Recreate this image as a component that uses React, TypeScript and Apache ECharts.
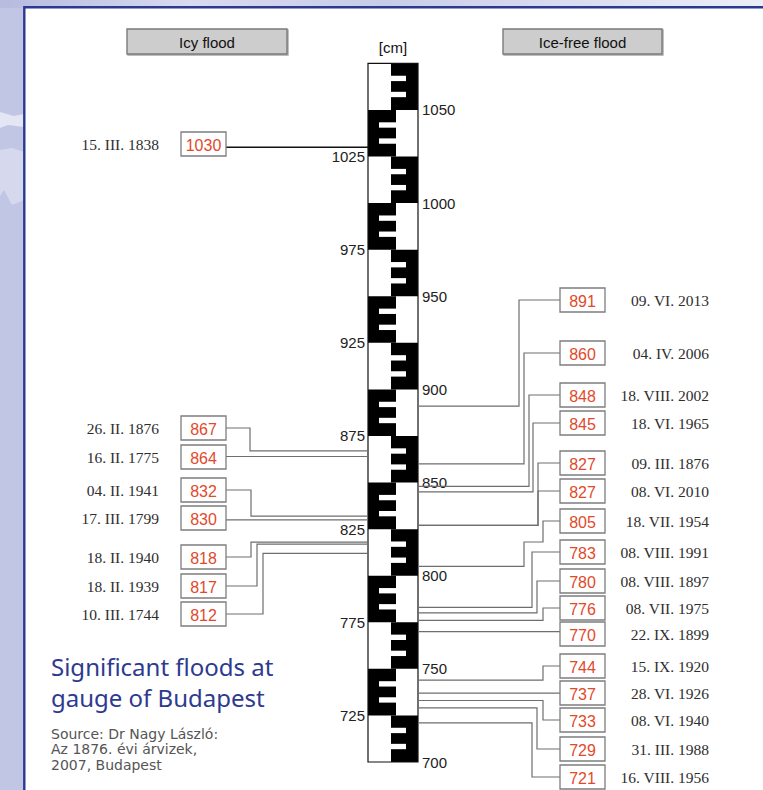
import React, { useEffect, useRef } from "react";
import * as echarts from "echarts";

// ---------- data ----------
const gaugeBlocks = [700, 725, 750, 775, 800, 825, 850, 875, 900, 925, 950, 975, 1000, 1025, 1050];
const gaugeMin = 700;
const gaugeMax = 1075;
const gaugeStep = 25;

const icyDates = ["15. III. 1838", "26. II. 1876", "16. II. 1775", "04. II. 1941", "17. III. 1799", "18. II. 1940", "18. II. 1939", "10. III. 1744"];
const icyValues = [1030, 867, 864, 832, 830, 818, 817, 812];

const iceFreeDates = ["09. VI. 2013", "04. IV. 2006", "18. VIII. 2002", "18. VI. 1965", "09. III. 1876", "08. VI. 2010", "18. VII. 1954", "08. VIII. 1991", "08. VIII. 1897", "08. VII. 1975", "22. IX. 1899", "15. IX. 1920", "28. VI. 1926", "08. VI. 1940", "31. III. 1988", "16. VIII. 1956"];
const iceFreeValues = [891, 860, 848, 845, 827, 827, 805, 783, 780, 776, 770, 744, 737, 733, 729, 721];

const headers = ["Icy flood", "Ice-free flood"];
const unitLabel = "[cm]";
const titleLines = ["Significant floods at", "gauge of Budapest"];
const sourceLines = ["Source: Dr Nagy László:", "Az 1876. évi árvizek,", "2007, Budapest"];

// ---------- layout ----------
const W = 763, H = 790;
const gridTop = 63.4, gridBottom = 28;
const staffLeft = 368, staffWidth = 50;
const icyBoxY = [144, 428, 457, 490, 518, 557, 586, 614];
const icyElbowX: (number | null)[] = [null, 250, null, 251, null, 251, 257, 263];
const iceFreeBoxY = [300, 353, 395, 423, 463, 491, 521, 552, 581, 608, 634, 666, 693, 720, 749, 777];
const iceFreeElbowX: (number | null)[] = [519, 524, 529, 533, 538, 538, 543, 532, 537, 543, null, 543, null, 543, 537, 532];
const detourIndex = 6, detourY = 542, detourX = 524;
const icyBoxX = 181, iceFreeBoxX = 560, boxW = 45, boxH = 24;
const icyDateRight = 159, iceFreeDateRight = 709;

const SANS = "Liberation Sans";
const SERIF = "Liberation Serif";
const RED = "#e2492a";
const LINE = "#6e6e6e";

function txt(text: string, x: number, y: number, size: number, family: string, fill: string, align: string, extra: any = {}) {
  return {
    type: "text",
    style: {
      text, x, y, fill, fontSize: size, fontFamily: family,
      align, verticalAlign: "middle", textAlign: align, textVerticalAlign: "middle", ...extra,
    },
  };
}

export default function App() {
  const ref = useRef<HTMLDivElement>(null);
  useEffect(() => {
    if (!ref.current) return;
    const chart = echarts.init(ref.current, null, { renderer: "svg" });

    const staffItem = (params: any, api: any) => {
      const lo = api.value(1);
      const side = api.value(2);
      const p0 = api.coord([0, lo + gaugeStep]);
      const p1 = api.coord([staffWidth, lo]);
      const top = p0[1], bot = p1[1], left = p0[0], right = p1[0];
      const h = bot - top;
      const n1 = [top + 0.265 * h, top + 0.38 * h];
      const n2 = [top + 0.61 * h, top + 0.725 * h];
      let black, nx0, nx1;
      if (side === 0) {
        black = { x: left + 23, y: top, width: right - left - 23, height: h };
        nx0 = left + 23; nx1 = left + 38;
      } else {
        black = { x: left, y: top, width: 28, height: h };
        nx0 = left + 11; nx1 = left + 28;
      }
      return {
        type: "group",
        children: [
          { type: "rect", shape: black, style: { fill: "#000" } },
          { type: "rect", shape: { x: nx0, y: n1[0], width: nx1 - nx0, height: n1[1] - n1[0] }, style: { fill: "#fff" } },
          { type: "rect", shape: { x: nx0, y: n2[0], width: nx1 - nx0, height: n2[1] - n2[0] }, style: { fill: "#fff" } },
        ],
      };
    };

    const outlineItem = (params: any, api: any) => {
      const p0 = api.coord([0, api.value(2)]);
      const p1 = api.coord([staffWidth, api.value(1)]);
      return {
        type: "rect",
        shape: { x: p0[0], y: p0[1], width: p1[0] - p0[0], height: p1[1] - p0[1] },
        style: { fill: "none", stroke: "#111", lineWidth: 1.2 },
      };
    };

    const icyItem = (params: any, api: any) => {
      const v = api.value(1);
      const i = api.value(2);
      const yv = api.coord([0, v])[1];
      const sx = api.coord([staffLeft, v])[0];
      const bx = api.coord([icyBoxX + boxW, v])[0];
      const by = icyBoxY[i];
      const ex = icyElbowX[i];
      const pts = ex == null ? [[bx, yv], [sx, yv]] : [[bx, by], [ex, by], [ex, yv], [sx, yv]];
      const isTop = v > 1000;
      return {
        type: "group",
        children: [
          { type: "polyline", shape: { points: pts }, style: { fill: "none", stroke: isTop ? "#111" : LINE, lineWidth: isTop ? 1.5 : 1.2 } },
          { type: "rect", shape: { x: icyBoxX, y: by - boxH / 2, width: boxW, height: boxH }, style: { fill: "#fff", stroke: "#7d7d7d", lineWidth: 1.3 } },
          txt(String(v), icyBoxX + boxW / 2, by + 1, 16, SANS, RED, "center"),
          txt(icyDates[i], icyDateRight, by, 15.5, SERIF, "#2e2e2e", "right"),
        ],
      };
    };

    const iceFreeItem = (params: any, api: any) => {
      const v = api.value(1);
      const i = api.value(2);
      const yv = api.coord([0, v])[1];
      const sx = api.coord([staffLeft + staffWidth, v])[0];
      const bx = api.coord([iceFreeBoxX, v])[0];
      const by = iceFreeBoxY[i];
      const ex = iceFreeElbowX[i];
      let pts: number[][];
      if (ex == null) pts = [[bx, yv], [sx, yv]];
      else if (i === detourIndex) pts = [[bx, by], [ex, by], [ex, detourY], [detourX, detourY], [detourX, yv], [sx, yv]];
      else pts = [[bx, by], [ex, by], [ex, yv], [sx, yv]];
      return {
        type: "group",
        children: [
          { type: "polyline", shape: { points: pts }, style: { fill: "none", stroke: LINE, lineWidth: 1.2 } },
          { type: "rect", shape: { x: iceFreeBoxX, y: by - boxH / 2, width: boxW, height: boxH }, style: { fill: "#fff", stroke: "#7d7d7d", lineWidth: 1.3 } },
          txt(String(v), iceFreeBoxX + boxW / 2, by + 1, 16, SANS, RED, "center"),
          txt(iceFreeDates[i], iceFreeDateRight, by, 15.5, SERIF, "#2e2e2e", "right"),
        ],
      };
    };

    const headerBox = (label: string, x: number, w: number) => ({
      type: "group",
      children: [
        { type: "rect", shape: { x, y: 29, width: w, height: 25 }, style: { fill: "#cdcdcd", stroke: "#7a7a7a", lineWidth: 1.4, shadowColor: "rgba(0,0,0,0.35)", shadowOffsetX: 1, shadowOffsetY: 1, shadowBlur: 1 } },
        txt(label, x + w / 2, 42, 15, SANS, "#111", "center"),
      ],
    });

    const option: any = {
      animation: false,
      backgroundColor: "#fff",
      grid: [
        { left: staffLeft, width: staffWidth, top: gridTop, bottom: gridBottom },
        { left: 0, right: 0, top: gridTop, bottom: gridBottom },
      ],
      xAxis: [
        { gridIndex: 0, type: "value", min: 0, max: staffWidth, show: false },
        { gridIndex: 1, type: "value", min: 0, max: W, show: false },
      ],
      yAxis: [
        {
          gridIndex: 0, type: "value", min: gaugeMin, max: gaugeMax, interval: 50, position: "right",
          axisLine: { show: false }, axisTick: { show: false }, splitLine: { show: false },
          axisLabel: { margin: 4, fontSize: 15, fontFamily: SANS, color: "#222", formatter: (v: number) => (v % 50 === 0 && v <= 1050 ? String(v) : "") },
        },
        {
          gridIndex: 0, type: "value", min: gaugeMin, max: gaugeMax, interval: 25, position: "left",
          axisLine: { show: false }, axisTick: { show: false }, splitLine: { show: false },
          axisLabel: { margin: 3, fontSize: 15, fontFamily: SANS, color: "#222", formatter: (v: number) => (v % 50 === 25 && v < gaugeMax ? String(v) : "") },
        },
        { gridIndex: 1, type: "value", min: gaugeMin, max: gaugeMax, show: false },
      ],
      graphic: [
        { type: "rect", z: -10, shape: { x: 0, y: 0, width: W, height: H }, style: { fill: "#c2c6e5" } },
        {
          type: "rect", z: -9, shape: { x: 0, y: 0, width: W, height: 8 },
          style: { fill: { type: "linear", x: 0, y: 0, x2: 1, y2: 0, colorStops: [{ offset: 0, color: "#b6bbdf" }, { offset: 0.25, color: "#d8daef" }, { offset: 0.5, color: "#c9cce8" }, { offset: 1, color: "#eceef7" }] } },
        },
        { type: "polygon", z: -9, shape: { points: [[0, 112], [14, 116], [24, 114], [24, 127], [8, 125], [0, 128]] }, style: { fill: "#e4e6f4" } },
        { type: "polygon", z: -9, shape: { points: [[0, 150], [12, 148], [24, 152], [24, 200], [12, 205], [4, 190], [0, 196]] }, style: { fill: "#d6d9ee" } },
        { type: "rect", z: -8, shape: { x: 24, y: 7, width: W - 24, height: H - 7 }, style: { fill: "#fff" } },
        { type: "polyline", z: -7, shape: { points: [[24.3, H], [24.3, 7.3], [W, 7.3]] }, style: { fill: "none", stroke: "#2b3990", lineWidth: 2.4 } },
        headerBox(headers[0], 127, 160),
        headerBox(headers[1], 503, 159),
        txt(unitLabel, 393, 47, 15, SANS, "#111", "center"),
        txt(titleLines[0], 51, 666, 24, "Noto Sans", "#2d3a8f", "left"),
        txt(titleLines[1], 51, 697, 24, "Noto Sans", "#2d3a8f", "left"),
        {
          type: "text",
          style: {
            text: sourceLines.join("\n"), x: 51, y: 726, fill: "#555", fontSize: 14, fontFamily: "DejaVu Sans",
            lineHeight: 15.6, align: "left", verticalAlign: "top", textAlign: "left", textVerticalAlign: "top",
          },
        },
      ],
      series: [
        {
          type: "custom", xAxisIndex: 0, yAxisIndex: 0, renderItem: staffItem,
          data: gaugeBlocks.map((lo, i) => [0, lo, i % 2]),
        },
        {
          type: "custom", xAxisIndex: 0, yAxisIndex: 0, renderItem: outlineItem,
          data: [[0, gaugeMin, gaugeMax]],
        },
        {
          type: "custom", xAxisIndex: 1, yAxisIndex: 2, renderItem: icyItem,
          data: icyValues.map((v, i) => [0, v, i]),
        },
        {
          type: "custom", xAxisIndex: 1, yAxisIndex: 2, renderItem: iceFreeItem,
          data: iceFreeValues.map((v, i) => [0, v, i]),
        },
      ],
    };
    chart.setOption(option);
    return () => chart.dispose();
  }, []);
  return <div ref={ref} style={{ position: "absolute", left: 0, top: 0, width: W, height: H }} />;
}
